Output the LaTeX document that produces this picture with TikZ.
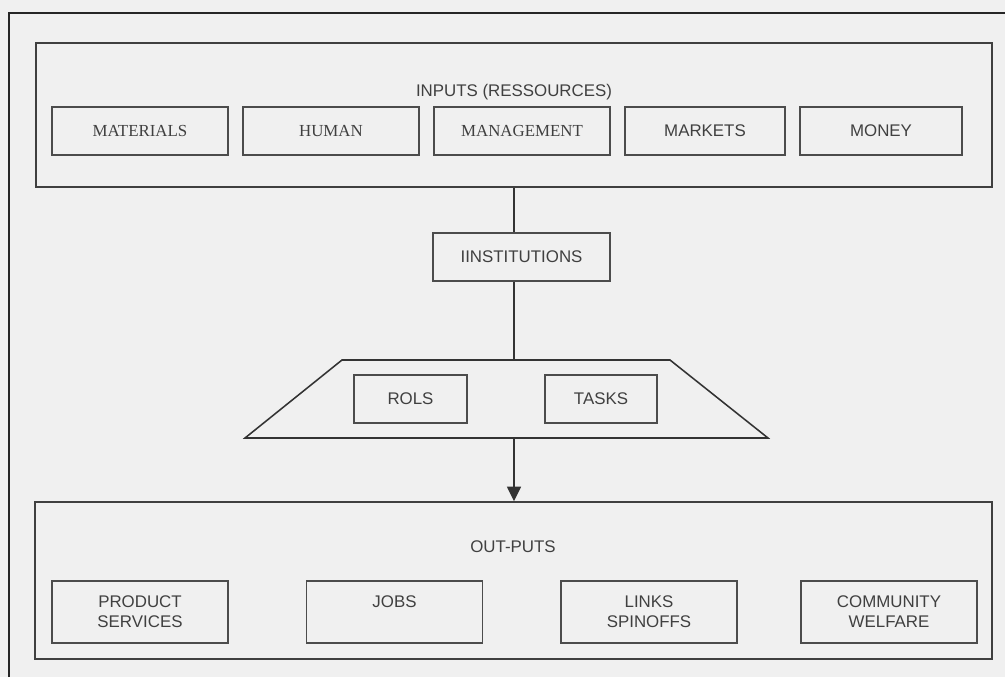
\documentclass[tikz,border=0pt]{standalone}
\usepackage{fontspec}
\setmainfont{Liberation Serif}
\newfontfamily\arialfont{Liberation Sans}
\usetikzlibrary{arrows.meta,positioning}
\newcommand{\txtsize}{\fontsize{12}{14.2}\selectfont}
\tikzset{
  frameline/.style={draw=black!85, line width=1.4pt},
  bigbox/.style={draw=black!75, line width=1pt, minimum width=23.9cm, inner sep=0pt},
  inbox/.style={draw=black!70, line width=0.8pt, minimum width=4.4cm, minimum height=1.2cm,
    inner sep=0pt, text=black!75, font=\txtsize},
  sansbox/.style={inbox, font=\arialfont\txtsize},
  outbox/.style={sansbox, minimum height=1.55cm, align=center},
  title/.style={text=black!75, font=\arialfont\txtsize, inner sep=0pt},
  link/.style={draw=black!80, line width=1.1pt}
}

\begin{document}
\begin{tikzpicture}[x=0.025cm, y=-0.025cm]
\fill[black!6] (0,0) rectangle (1005,677);
\useasboundingbox (0,0) rectangle (1005,677);
\draw[frameline] (9,677) -- (9,13) -- (1005,13);

% inputs
\node [bigbox, minimum height=3.6cm] (inputs) at (514,115) {};
\node [title] (inlabel) at (514,92) {INPUTS (RESSOURCES)};
\node [inbox] (materials) at (140,131) {MATERIALS};
\node [inbox] (human) at (331,131) {HUMAN};
\node [inbox] (management) at (522,131) {MANAGEMENT};
\node [sansbox, minimum width=4cm] (markets) at (705,131) {MARKETS};
\node [sansbox, minimum width=4.05cm] (money) at (881,131) {MONEY};

\node [sansbox, minimum width=4.425cm] (inst) at (521.5,257) {IINSTITUTIONS};

% roles and tasks
\draw[link] (342,360) -- (670,360) -- (768,438) -- (245,438) -- cycle;
\coordinate (traptop) at (514,360);
\coordinate (trapbot) at (514,438);
\node [sansbox, minimum width=2.825cm] (rols) at (410.5,399) {ROLS};
\node [sansbox, minimum width=2.8cm] (tasks) at (601,399) {TASKS};

% outputs
\node [bigbox, minimum width=23.925cm, minimum height=3.925cm] (outputs) at (513.5,580.5) {};
\node [title] (outlabel) at (513,547) {OUT-PUTS};
\node [outbox] (product) at (140,612) {PRODUCT\\SERVICES};
\node [outbox] (jobs) at (394.5,612) {JOBS\\\phantom{J}};
\node [outbox] (links) at (649,612) {LINKS\\SPINOFFS};
\node [outbox] (welfare) at (889,612) {COMMUNITY\\WELFARE};

\draw[link] (inputs.south) -- (inputs.south |- inst.north);
\draw[link] (inst.south -| inputs.south) -- (traptop);
\draw[link, -{Triangle[length=10.5pt, width=10pt]}] (trapbot) -- (trapbot |- outputs.north);
\end{tikzpicture}
\end{document}
